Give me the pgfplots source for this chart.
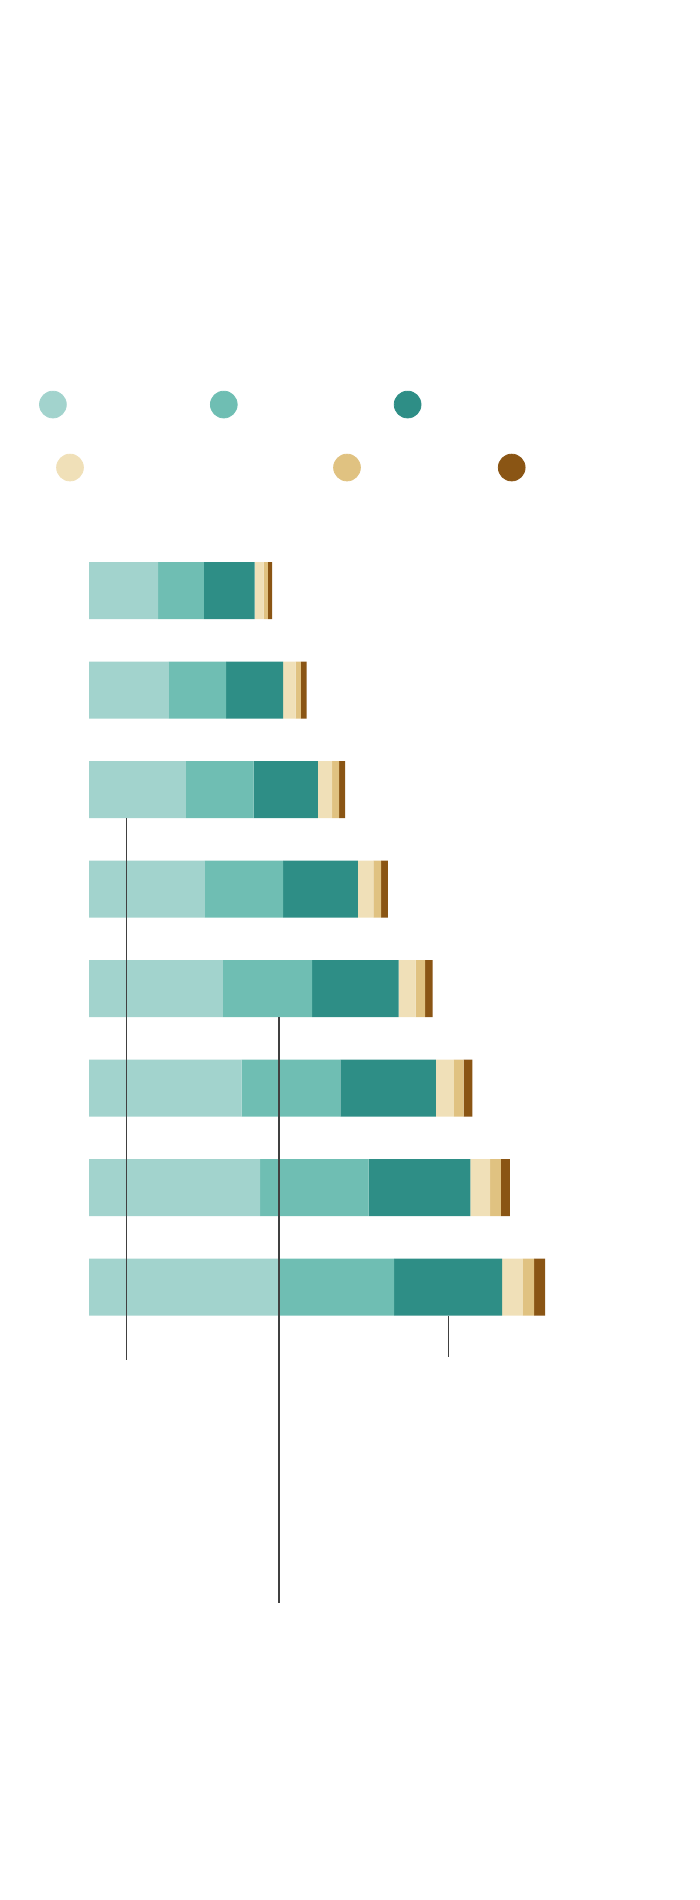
\documentclass[border=0pt]{standalone}
\usepackage{pgfplots}
\pgfplotsset{compat=1.18}

\definecolor{tealA}{HTML}{A2D3CD}
\definecolor{tealB}{HTML}{6FBEB3}
\definecolor{tealC}{HTML}{2E8E86}
\definecolor{sandA}{HTML}{F0E0B8}
\definecolor{sandB}{HTML}{E0C281}
\definecolor{sandC}{HTML}{8A5514}

% shared frame: 1 px of the 700x1900 picture = 0.5pt
\pgfplotsset{
  frame/.style={
    at={(0,0)}, anchor=south west,
    scale only axis,
    width=350pt, height=950pt,
    xmin=-29.667, xmax=203.667,
    ymin=-5.935, ymax=13.161,
    y dir=reverse,
    hide axis,
  },
}

\begin{document}
\begin{tikzpicture}
\path[use as bounding box] (0,0) rectangle (350pt,950pt);

% --- stacked bars ---
\begin{axis}[
    frame,
    xbar stacked,
    bar width=0.573,
]
\addplot[fill=tealA, draw=none] coordinates {
    (23.0,0) (26.6,1) (32.3,2) (38.6,3) (44.6,4) (50.9,5) (57.0,6) (63.2,7)};
\addplot[fill=tealB, draw=none] coordinates {
    (15.3,0) (19.1,1) (22.6,2) (26.1,3) (29.8,4) (32.9,5) (36.2,6) (38.5,7)};
\addplot[fill=tealC, draw=none] coordinates {
    (16.9,0) (19.0,1) (21.4,2) (24.9,3) (28.8,4) (31.8,5) (33.9,6) (36.0,7)};
\addplot[fill=sandA, draw=none] coordinates {
    (3.0,0) (4.2,1) (4.7,2) (5.2,3) (5.7,4) (6.0,5) (6.6,6) (6.9,7)};
\addplot[fill=sandB, draw=none] coordinates {
    (1.4,0) (1.7,1) (2.4,2) (2.6,3) (3.1,4) (3.3,5) (3.6,6) (3.8,7)};
\addplot[fill=sandC, draw=none] coordinates {
    (1.4,0) (1.9,1) (2.0,2) (2.2,3) (2.5,4) (2.9,5) (3.0,6) (3.6,7)};
\end{axis}

% --- legend dots and leader lines ---
\begin{axis}[frame]
\addplot[only marks, mark=*, mark size=6.7pt, color=tealA] coordinates {(-12.03,-1.869)};
\addplot[only marks, mark=*, mark size=6.7pt, color=tealB] coordinates {(44.93,-1.869)};
\addplot[only marks, mark=*, mark size=6.7pt, color=tealC] coordinates {(106.2,-1.869)};
\addplot[only marks, mark=*, mark size=6.7pt, color=sandA] coordinates {(-6.33,-1.236)};
\addplot[only marks, mark=*, mark size=6.7pt, color=sandB] coordinates {(86.0,-1.236)};
\addplot[only marks, mark=*, mark size=6.7pt, color=sandC] coordinates {(140.9,-1.236)};

\addplot[black!75, line width=0.6pt] coordinates {(12.43,2.2865) (12.43,7.73)};
\addplot[black!75, line width=0.6pt] coordinates {(63.33,4.2865) (63.33,10.18)};
\addplot[black!75, line width=0.6pt] coordinates {(119.8,7.2865) (119.8,7.70)};
\end{axis}
\end{tikzpicture}
\end{document}
